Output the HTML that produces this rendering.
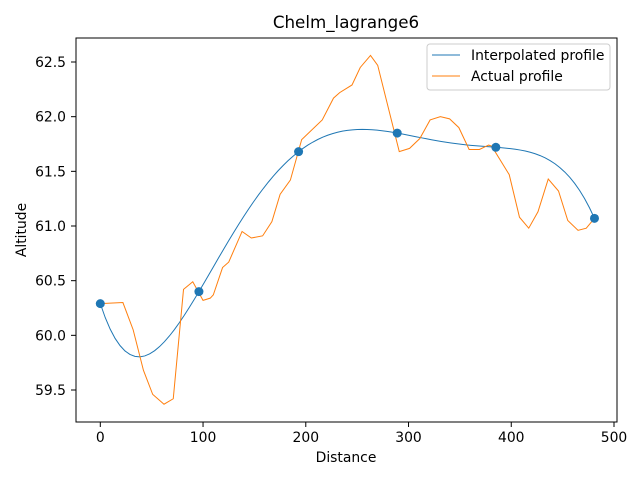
<!DOCTYPE html>
<html><head><meta charset="utf-8"><style>
body{margin:0;background:#fff;}
svg{display:block;font-family:"DejaVu Sans","Liberation Sans",sans-serif;}
</style></head><body>
<svg id="chart" width="640" height="480" viewBox="0 0 640 480">
<rect width="640" height="480" fill="#fff"/>
<text x="346" y="28" font-size="16.7" text-anchor="middle">Chelm_lagrange6</text>
<g id="xticks"></g>
<g id="yticks"></g>
<g id="series"></g>
<rect x="76" y="38" width="541" height="384" fill="none" stroke="#000" stroke-width="1"/>
<text x="346" y="462" font-size="13.9" text-anchor="middle">Distance</text>
<text x="26" y="230" font-size="13.9" text-anchor="middle" transform="rotate(-90 26 230)">Altitude</text>
<g>
<rect x="427" y="44" width="183" height="46" rx="3" fill="#fff" fill-opacity="0.8" stroke="#ccc"/>
<line x1="432" y1="55" x2="460" y2="55" stroke="#1f77b4" stroke-width="1"/>
<text x="471" y="60" font-size="13.9">Interpolated profile</text>
<line x1="432" y1="76" x2="460" y2="76" stroke="#ff7f0e" stroke-width="1"/>
<text x="471" y="81" font-size="13.9">Actual profile</text>
</g>
</svg>
<script>
const knotX=[0,96,193,289,385,481];
const knotY=[60.29,60.40,61.68,61.85,61.72,61.07];
const actualX=[0,22,32,42,51,62,71,81,90,100,107,110,119,125,138,147,158,167,175,185,196,216,227,233,245,253,263,270,291,301,311,321,331,340,349,359,369,378,381,398,408,417,426,436,446,455,465,473,481];
const actualY=[60.29,60.30,60.05,59.68,59.46,59.37,59.42,60.42,60.49,60.32,60.34,60.37,60.62,60.67,60.95,60.89,60.91,61.04,61.29,61.42,61.79,61.97,62.17,62.22,62.29,62.45,62.56,62.47,61.68,61.71,61.80,61.97,62.00,61.98,61.90,61.70,61.70,61.74,61.73,61.47,61.08,60.98,61.13,61.43,61.32,61.05,60.96,60.98,61.07];
const xTicks=[0,100,200,300,400,500];
const yTicks=[59.5,60.0,60.5,61.0,61.5,62.0,62.5];
const NS="http://www.w3.org/2000/svg";
function sx(d){return 100.3+d*1.0274;}
function sy(a){return 390-(a-59.5)*109.33;}
function mk(tag,attrs,parent){const e=document.createElementNS(NS,tag);for(const k in attrs)e.setAttribute(k,attrs[k]);parent.appendChild(e);return e;}
const xg=document.getElementById('xticks'),yg=document.getElementById('yticks'),sg=document.getElementById('series');
xTicks.forEach(t=>{
  const l=mk('line',{x1:sx(t),x2:sx(t),y1:422,y2:427,stroke:'#000'},xg);
  
  
  const tx=mk('text',{x:sx(t),y:442,'font-size':13.9,'text-anchor':'middle'},xg);
  tx.textContent=String(t);
  
  
});
yTicks.forEach(t=>{
  const l=mk('line',{x1:71,x2:76,y1:sy(t),y2:sy(t),stroke:'#000'},yg);
  
  
  const tx=mk('text',{x:66,y:sy(t)+5,'font-size':13.9,'text-anchor':'end'},yg);
  tx.textContent=t.toFixed(1);
  
  
});
function lag(x){let s=0;for(let i=0;i<knotX.length;i++){let p=knotY[i];for(let j=0;j<knotX.length;j++){if(j!==i)p*=(x-knotX[j])/(knotX[i]-knotX[j]);}s+=p;}return s;}
let pts=[];const x0=knotX[0],x1=knotX[knotX.length-1];
for(let k=0;k<=100;k++){const x=x0+(x1-x0)*k/100;pts.push(sx(x).toFixed(2)+','+sy(lag(x)).toFixed(2));}
const interp=mk('polyline',{points:pts.join(' '),fill:'none',stroke:'#1f77b4','stroke-width':1},sg);


const act=mk('polyline',{points:actualX.map((x,i)=>sx(x).toFixed(2)+','+sy(actualY[i]).toFixed(2)).join(' '),fill:'none',stroke:'#ff7f0e','stroke-width':1},sg);


knotX.forEach((x,i)=>{
  const c=mk('circle',{cx:sx(x),cy:sy(knotY[i]),r:4.5,fill:'#1f77b4'},sg);
  
  
});
</script>
</body></html>
